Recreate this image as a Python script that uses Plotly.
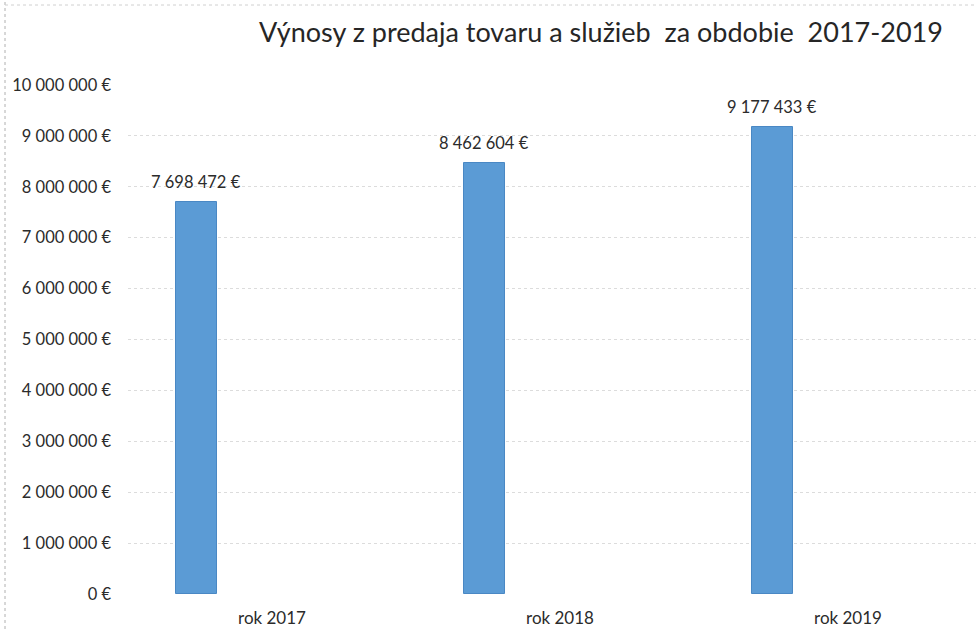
import plotly.graph_objects as go

categories = ["rok 2017", "rok 2018", "rok 2019"]
values = [7698472, 8462604, 9177433]
tick_vals = [0, 1000000, 2000000, 3000000, 4000000, 5000000, 6000000, 7000000, 8000000, 9000000, 10000000]
tick_text = [f"{t:,}".replace(",", " ") + " €" for t in tick_vals]
title_text = "Výnosy z predaja tovaru a služieb  za obdobie  2017-2019"

FONT = "Lato, 'Open Sans', sans-serif"
BAR_OFFSET = -0.335
BAR_WIDTH = 0.143

fig = go.Figure()
fig.add_trace(go.Bar(
    x=categories,
    y=values,
    offset=BAR_OFFSET,
    width=BAR_WIDTH,
    marker=dict(color="#5b9bd5", line=dict(color="#4a88c4", width=1)),
    hoverinfo="skip",
))

for i, v in enumerate(values):
    fig.add_annotation(
        x=i + BAR_OFFSET + BAR_WIDTH / 2,
        y=v,
        xref="x", yref="y",
        text=f"{v:,}".replace(",", " ") + " €",
        showarrow=False,
        yshift=20,
        font=dict(family=FONT, size=16.5, color="#2b2b2b"),
    )

W, H = 976, 629
ml, mr, mt, mb = 128, 0, 85, 35
pw = W - ml - mr
ph = H - mt - mb

fig.update_layout(
    width=W, height=H,
    margin=dict(l=ml, r=mr, t=mt, b=mb),
    paper_bgcolor="white",
    plot_bgcolor="white",
    showlegend=False,
    bargap=0,
    title=dict(
        text=title_text,
        x=601 / W, xanchor="center", xref="container",
        y=1 - 33 / H, yanchor="middle", yref="container",
        font=dict(family=FONT, size=27, color="#262626"),
    ),
    xaxis=dict(
        type="category",
        range=[-0.5, -0.5 + pw / 288],
        showgrid=False,
        showline=False,
        zeroline=False,
        ticks="",
        ticklabelstandoff=12,
        tickfont=dict(family=FONT, size=17, color="#2b2b2b"),
    ),
    yaxis=dict(
        range=[0, 10000000],
        tickmode="array",
        tickvals=tick_vals,
        ticktext=tick_text,
        showgrid=True,
        gridcolor="#dcdcdc",
        griddash="dot",
        gridwidth=1,
        zeroline=False,
        showline=False,
        ticks="",
        ticklabelstandoff=16,
        tickfont=dict(family=FONT, size=16.5, color="#2b2b2b"),
    ),
)

# scanned page borders
fig.add_shape(type="line", xref="paper", yref="paper",
              x0=(5 - ml) / pw, x1=(5 - ml) / pw, y0=(H - mb - 629) / ph, y1=(H - mb - 0) / ph,
              line=dict(color="#b0b0b0", width=1, dash="dot"))
fig.add_shape(type="line", xref="paper", yref="paper",
              x0=(5 - ml) / pw, x1=1, y0=(H - mb - 5) / ph, y1=(H - mb - 5) / ph,
              line=dict(color="#d0d0d0", width=1, dash="dot"))

fig.write_html("out.html", config={"displayModeBar": False},
               post_script="document.body.style.margin='0';")
